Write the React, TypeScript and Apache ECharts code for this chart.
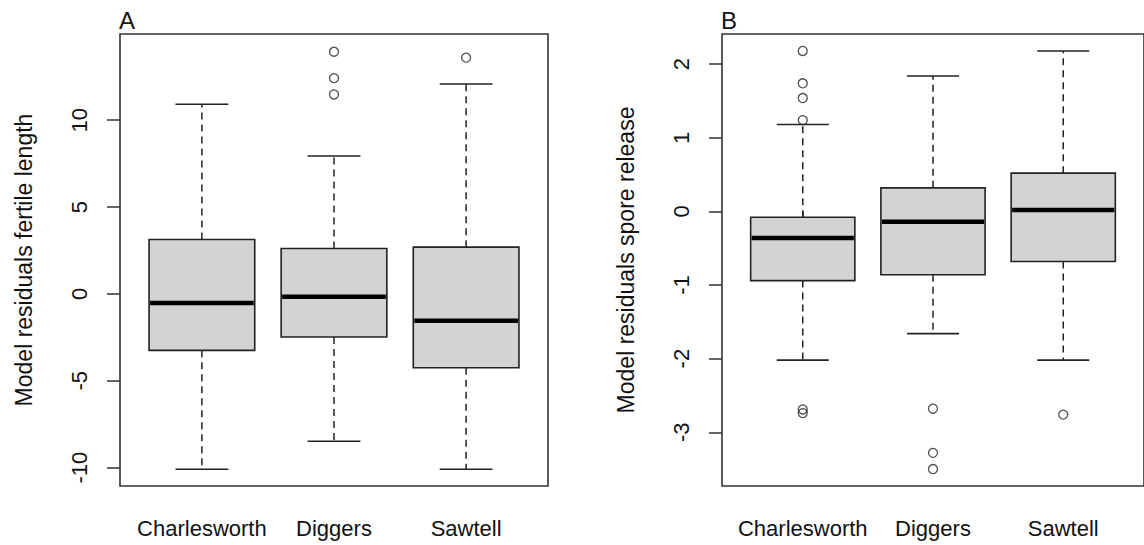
import React, { useEffect, useRef } from "react";
import * as echarts from "echarts";

const categories = ["Charlesworth", "Diggers", "Sawtell"];

// Panel A: [min whisker, Q1, median, Q3, max whisker]
const statsA = [
  [-10.1, -3.25, -0.52, 3.13, 10.92],
  [-8.48, -2.48, -0.17, 2.61, 7.94],
  [-10.1, -4.25, -1.54, 2.69, 12.08],
];
const outliersA: [number, number][] = [
  [2, 13.94],
  [2, 12.42],
  [2, 11.48],
  [3, 13.6],
];
const yTicksA = [-10, -5, 0, 5, 10];

// Panel B
const statsB = [
  [-2.02, -0.94, -0.36, -0.08, 1.18],
  [-1.66, -0.86, -0.14, 0.32, 1.84],
  [-2.02, -0.68, 0.02, 0.52, 2.18],
];
const outliersB: [number, number][] = [
  [1, 2.18],
  [1, 1.74],
  [1, 1.54],
  [1, 1.24],
  [1, -2.69],
  [1, -2.74],
  [2, -2.68],
  [2, -3.28],
  [2, -3.5],
  [3, -2.76],
];
const yTicksB = [-3, -2, -1, 0, 1, 2];

const FONT = "Liberation Sans, Arial, sans-serif";
const TEXT = "#111";

function renderBox(params: any, api: any) {
  const x = api.value(0);
  const lo = api.coord([x, api.value(1)]);
  const q1 = api.coord([x, api.value(2)]);
  const md = api.coord([x, api.value(3)]);
  const q3 = api.coord([x, api.value(4)]);
  const hi = api.coord([x, api.value(5)]);
  const w = api.size([0.8, 0])[0];
  const cx = lo[0];
  const dashed = { stroke: "#222", lineWidth: 1.5, lineDash: [7, 5] };
  const solid = { stroke: "#222", lineWidth: 1.6 };
  return {
    type: "group",
    children: [
      { type: "line", shape: { x1: cx, y1: q3[1], x2: cx, y2: hi[1] }, style: dashed },
      { type: "line", shape: { x1: cx, y1: q1[1], x2: cx, y2: lo[1] }, style: dashed },
      { type: "line", shape: { x1: cx - w / 4, y1: hi[1], x2: cx + w / 4, y2: hi[1] }, style: solid },
      { type: "line", shape: { x1: cx - w / 4, y1: lo[1], x2: cx + w / 4, y2: lo[1] }, style: solid },
      {
        type: "rect",
        shape: { x: cx - w / 2, y: q3[1], width: w, height: q1[1] - q3[1] },
        style: { fill: "#d3d3d3", stroke: "#222", lineWidth: 1.6 },
      },
      {
        type: "line",
        shape: { x1: cx - w / 2 + 1, y1: md[1], x2: cx + w / 2 - 1, y2: md[1] },
        style: { stroke: "#000", lineWidth: 4.5 },
      },
    ],
  };
}

function buildOption() {
  const grids = [
    { left: 120, top: 34, width: 428, height: 452 },
    { left: 722, top: 34, width: 428, height: 452 },
  ].map((g) => ({ ...g, show: true, borderColor: "#333", borderWidth: 1.6, backgroundColor: "transparent" }));

  const xAxis = [0, 1].map((i) => ({
    type: "value",
    gridIndex: i,
    min: 0.38,
    max: 3.62,
    splitLine: { show: false },
    axisLine: { show: false },
    axisTick: { show: true, length: 13, customValues: [1, 2, 3], lineStyle: { color: "#333", width: 1.5 } },
    axisLabel: {
      customValues: [1, 2, 3],
      formatter: (v: number) => categories[Math.round(v) - 1] ?? "",
      fontFamily: FONT,
      fontSize: 22,
      color: TEXT,
      margin: 42,
      verticalAlign: "middle",
    },
  }));

  const yDefs = [
    { min: -11.06, max: 14.96, ticks: yTicksA, name: "Model residuals fertile length" },
    { min: -3.73, max: 2.41, ticks: yTicksB, name: "Model residuals spore release" },
  ];
  const yAxis = yDefs.map((d, i) => ({
    type: "value",
    gridIndex: i,
    min: d.min,
    max: d.max,
    splitLine: { show: false },
    axisLine: { show: false },
    axisTick: { show: true, length: 13, customValues: d.ticks, lineStyle: { color: "#333", width: 1.5 } },
    axisLabel: {
      customValues: d.ticks,
      rotate: 90,
      fontFamily: FONT,
      fontSize: 22,
      color: TEXT,
      margin: 41,
      verticalAlign: "middle",
      align: "center",
    },
    name: d.name,
    nameLocation: "middle",
    nameRotate: 90,
    nameGap: 96,
    nameTextStyle: { fontFamily: FONT, fontSize: 23, color: TEXT, verticalAlign: "middle", align: "center" },
  }));

  const series: any[] = [];
  [statsA, statsB].forEach((stats, i) => {
    series.push({
      type: "custom",
      xAxisIndex: i,
      yAxisIndex: i,
      renderItem: renderBox,
      encode: { x: 0, y: [1, 2, 3, 4, 5] },
      data: stats.map((s, k) => [k + 1, ...s]),
      silent: true,
    });
  });
  [outliersA, outliersB].forEach((pts, i) => {
    series.push({
      type: "scatter",
      xAxisIndex: i,
      yAxisIndex: i,
      symbol: "circle",
      symbolSize: 9,
      itemStyle: { color: "rgba(0,0,0,0)", borderColor: "#222", borderWidth: 1.3 },
      data: pts,
      silent: true,
    });
  });

  return {
    animation: false,
    backgroundColor: "#ffffff",
    grid: grids,
    xAxis,
    yAxis,
    series,
    graphic: [
      { type: "text", left: 119, top: 8, style: { text: "A", fontFamily: FONT, fontSize: 24, fill: TEXT } },
      { type: "text", left: 721, top: 8, style: { text: "B", fontFamily: FONT, fontSize: 24, fill: TEXT } },
    ],
  };
}

export default function App() {
  const ref = useRef<HTMLDivElement>(null);
  useEffect(() => {
    if (!ref.current) return;
    const chart = echarts.init(ref.current, undefined, { renderer: "svg" });
    chart.setOption(buildOption() as any);
    return () => chart.dispose();
  }, []);
  return (
    <div
      ref={ref}
      style={{ position: "fixed", left: 0, top: 0, width: 1144, height: 545, background: "#fff" }}
    />
  );
}
